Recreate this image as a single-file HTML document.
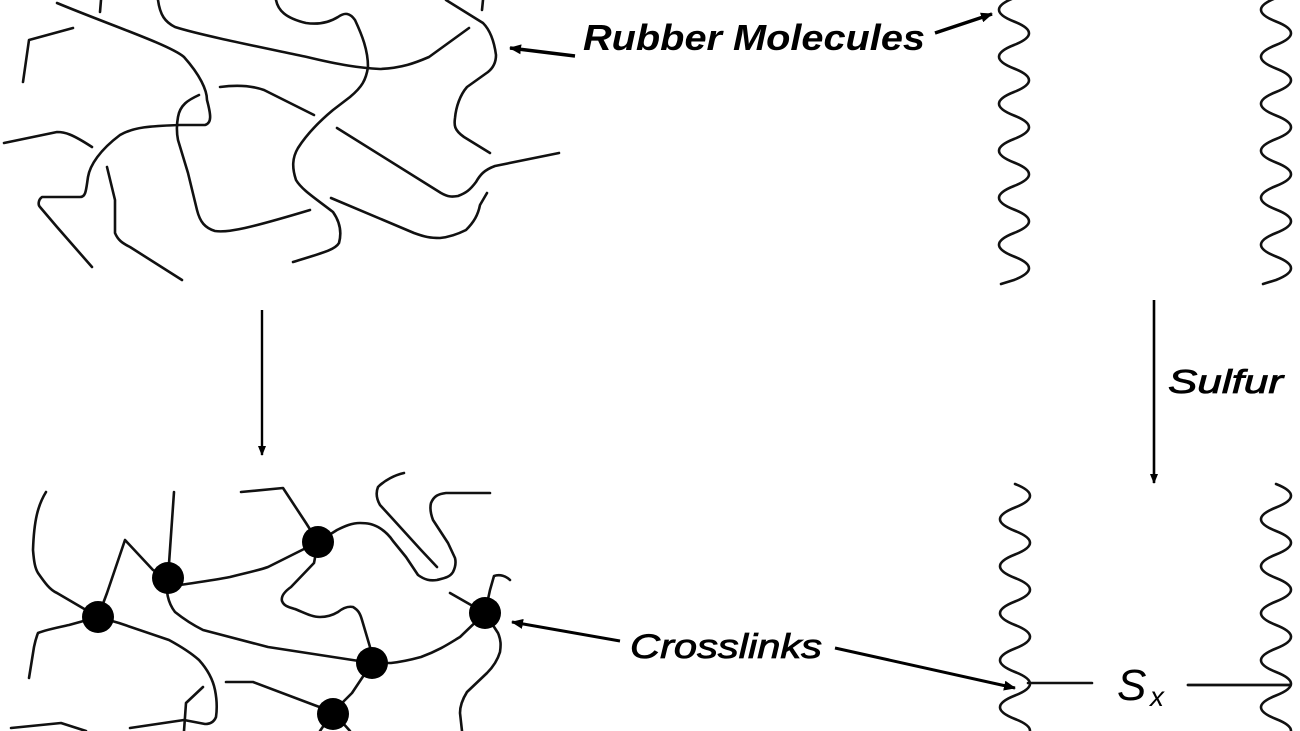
<!DOCTYPE html>
<html><head><meta charset="utf-8"><style>html,body{margin:0;padding:0;background:#fff}svg{display:block}</style></head>
<body>
<svg width="1300" height="731" viewBox="0 0 1300 731" xmlns="http://www.w3.org/2000/svg">
<defs>
<marker id="ah" markerWidth="10" markerHeight="8" refX="9" refY="4" orient="auto" markerUnits="userSpaceOnUse"><path d="M0,0 L10,4 L0,8 Z" fill="#000"/></marker>
<marker id="ahs" markerWidth="12" markerHeight="10" refX="11" refY="5" orient="auto" markerUnits="userSpaceOnUse"><path d="M0,0 L12,5 L0,10 Z" fill="#000"/></marker>
</defs>
<g fill="none" stroke="#111" stroke-width="2.6" stroke-linecap="round" stroke-linejoin="round">
<path d="M57,3 C110,25 170,45 184,57 C200,75 207,90 207,100 C211,115 212,123 205,125 L180,125 C150,126 134,127 120,135 C100,150 90,165 88,177 C86,190 86,197 80,197 L42,197 C38,200 38,205 40,207 L57,227 L92,267"/>
<path d="M101,0 L100,12"/>
<path d="M23,82 L29,40 L73,28"/>
<path d="M158,0 C160,15 165,22 175,27 C200,35 260,47 307,57 C340,65 360,68 380,69 C402,68 415,63 429,57 L469,28"/>
<path d="M276,0 C278,10 285,18 306,23 C320,25 330,22 338,17 C345,12 350,13 355,20 C362,35 368,50 368,67 C366,80 362,87 350,97 L333,110 C315,125 305,137 298,148 C292,158 292,168 296,180 C302,190 315,198 333,212 C340,222 342,232 339,243 C335,250 322,253 293,262"/>
<path d="M220,87 C235,85 250,85 264,90 L314,115"/>
<path d="M199,95 C188,100 180,105 178,117 C176,128 177,135 178,140 L188,173 L197,210 C200,222 205,228 215,231 C228,233 250,228 310,210"/>
<path d="M4,143 L57,132 C65,132 72,134 92,147"/>
<path d="M107,167 L115,200 L115,233 C118,240 122,243 130,247 L182,280"/>
<path d="M337,128 L441,193 C448,197 452,197 458,196 C466,193 470,190 476,182 C480,175 484,170 495,166 L559,153"/>
<path d="M446,0 L483,23 C490,30 494,40 496,55 C496,62 493,68 488,72 L467,87 C460,95 456,107 455,118 C454,125 454,130 464,137 L490,153"/>
<path d="M483,0 L482,10"/>
<path d="M331,198 L414,233 C425,237 430,238 440,238 C450,237 458,234 466,230 C474,222 478,215 480,205 L487,193"/>
<path d="M46,492 C38,505 34,520 33,550 C34,562 35,568 38,573 C45,583 50,590 57,593 L98,617"/>
<path d="M98,617 L69,625 C55,628 45,630 38,633 C36,638 35,642 34,647 L29,678"/>
<path d="M98,617 L107,593 L125,540 L153,570 L168,578"/>
<path d="M168,578 L174,492"/>
<path d="M168,578 L180,585 C200,582 215,580 230,577 C250,572 260,570 268,567 L318,542"/>
<path d="M318,542 L306,523 L283,488 L241,492"/>
<path d="M318,542 L337,530 C345,526 352,523 360,523 C368,523 372,524 378,527 C385,531 389,535 393,541 L406,557 L418,575 C425,580 430,581 437,580 C445,578 450,577 453,572 C456,566 456,562 455,558 L448,543 L433,520 C430,512 430,507 431,503 C434,496 438,494 446,493 L490,493"/>
<path d="M437,567 L421,550 L391,517 L380,505 C376,498 376,492 378,487 C385,480 395,475 404,473"/>
<path d="M318,542 L314,563 L291,587 C284,592 281,597 282,601 C284,606 288,607 295,609 C305,613 312,617 320,617 C328,617 333,615 338,612 C343,608 348,606 353,607 C358,610 360,613 362,620 L370,647 L372,663"/>
<path d="M168,578 C165,590 168,603 175,612 C185,620 195,626 203,630 L268,647 L372,663"/>
<path d="M372,663 L391,663 C400,662 410,660 421,657 C440,650 450,643 460,637 L485,613"/>
<path d="M485,613 L450,593"/>
<path d="M485,613 L490,590 L494,576 C500,574 506,576 510,580"/>
<path d="M485,613 L498,633 C501,640 501,645 500,652 C497,662 492,668 487,673 L467,692 C462,700 460,707 460,713 L462,731"/>
<path d="M372,663 L352,693 L333,712"/>
<path d="M98,617 L119,623 L169,640 C180,646 190,652 199,660 C208,670 213,680 215,690 C217,700 217,710 216,717 C214,722 210,724 205,724 L184,720 L130,728"/>
<path d="M203,687 L186,703 L184,731"/>
<path d="M226,682 L253,682 L314,705 L333,712"/>
<path d="M11,728 L61,723 L86,731"/>
<path d="M333,712 L320,731"/>
<path d="M333,712 L350,731"/>
<path d="M1014,-2 q-30,11.75 0,23.5 t0,23.5 t0,23.5 t0,23.5 t0,23.5 t0,23.5 t0,23.5 t0,23.5 t0,23.5 t0,23.5 t0,23.5 t0,23.5 l-13,4"/>
<path d="M1276,-2 q-30,11.75 0,23.5 t0,23.5 t0,23.5 t0,23.5 t0,23.5 t0,23.5 t0,23.5 t0,23.5 t0,23.5 t0,23.5 t0,23.5 t0,23.5 l-13,4"/>
<path d="M1015,484 q30,11.75 0,23.5 t0,23.5 t0,23.5 t0,23.5 t0,23.5 t0,23.5 t0,23.5 t0,23.5 t0,23.5 t0,23.5 t0,23.5"/>
<path d="M1276,484 q30,11.75 0,23.5 t0,23.5 t0,23.5 t0,23.5 t0,23.5 t0,23.5 t0,23.5 t0,23.5 t0,23.5 t0,23.5 t0,23.5"/>
<path d="M1028,683 L1092,683"/>
<path d="M1188,685 L1290,685" stroke-width="2.8"/>
</g>
<g fill="#000">
<circle cx="318" cy="542" r="16"/>
<circle cx="168" cy="578" r="16"/>
<circle cx="98" cy="617" r="16"/>
<circle cx="485" cy="613" r="16"/>
<circle cx="372" cy="663" r="16"/>
<circle cx="333" cy="714" r="16"/>
</g>
<g stroke="#000" fill="none">
<line x1="262" y1="310" x2="262" y2="455" stroke-width="2.4" marker-end="url(#ah)"/>
<line x1="1154" y1="300" x2="1154" y2="483" stroke-width="2.6" marker-end="url(#ah)"/>
<line x1="575" y1="56" x2="510" y2="48" stroke-width="3.5" marker-end="url(#ahs)"/>
<line x1="935" y1="33" x2="992" y2="14" stroke-width="3.5" marker-end="url(#ahs)"/>
<line x1="620" y1="641" x2="512" y2="622" stroke-width="3" marker-end="url(#ahs)"/>
<line x1="835" y1="648" x2="1015" y2="688" stroke-width="3" marker-end="url(#ahs)"/>
</g>
<g font-family="Liberation Sans, sans-serif" font-style="italic" fill="#000">
<text x="583" y="50" font-size="36" font-weight="bold" textLength="342" lengthAdjust="spacingAndGlyphs">Rubber Molecules</text>
<text x="1168" y="393" font-size="33" stroke="#000" stroke-width="0.8" textLength="115" lengthAdjust="spacingAndGlyphs">Sulfur</text>
<text x="630" y="658" font-size="34" stroke="#000" stroke-width="0.8" textLength="192" lengthAdjust="spacingAndGlyphs">Crosslinks</text>
<text x="1117" y="700" font-size="44">S</text>
<text x="1150" y="706" font-size="28">x</text>
</g>
</svg>
</body></html>
